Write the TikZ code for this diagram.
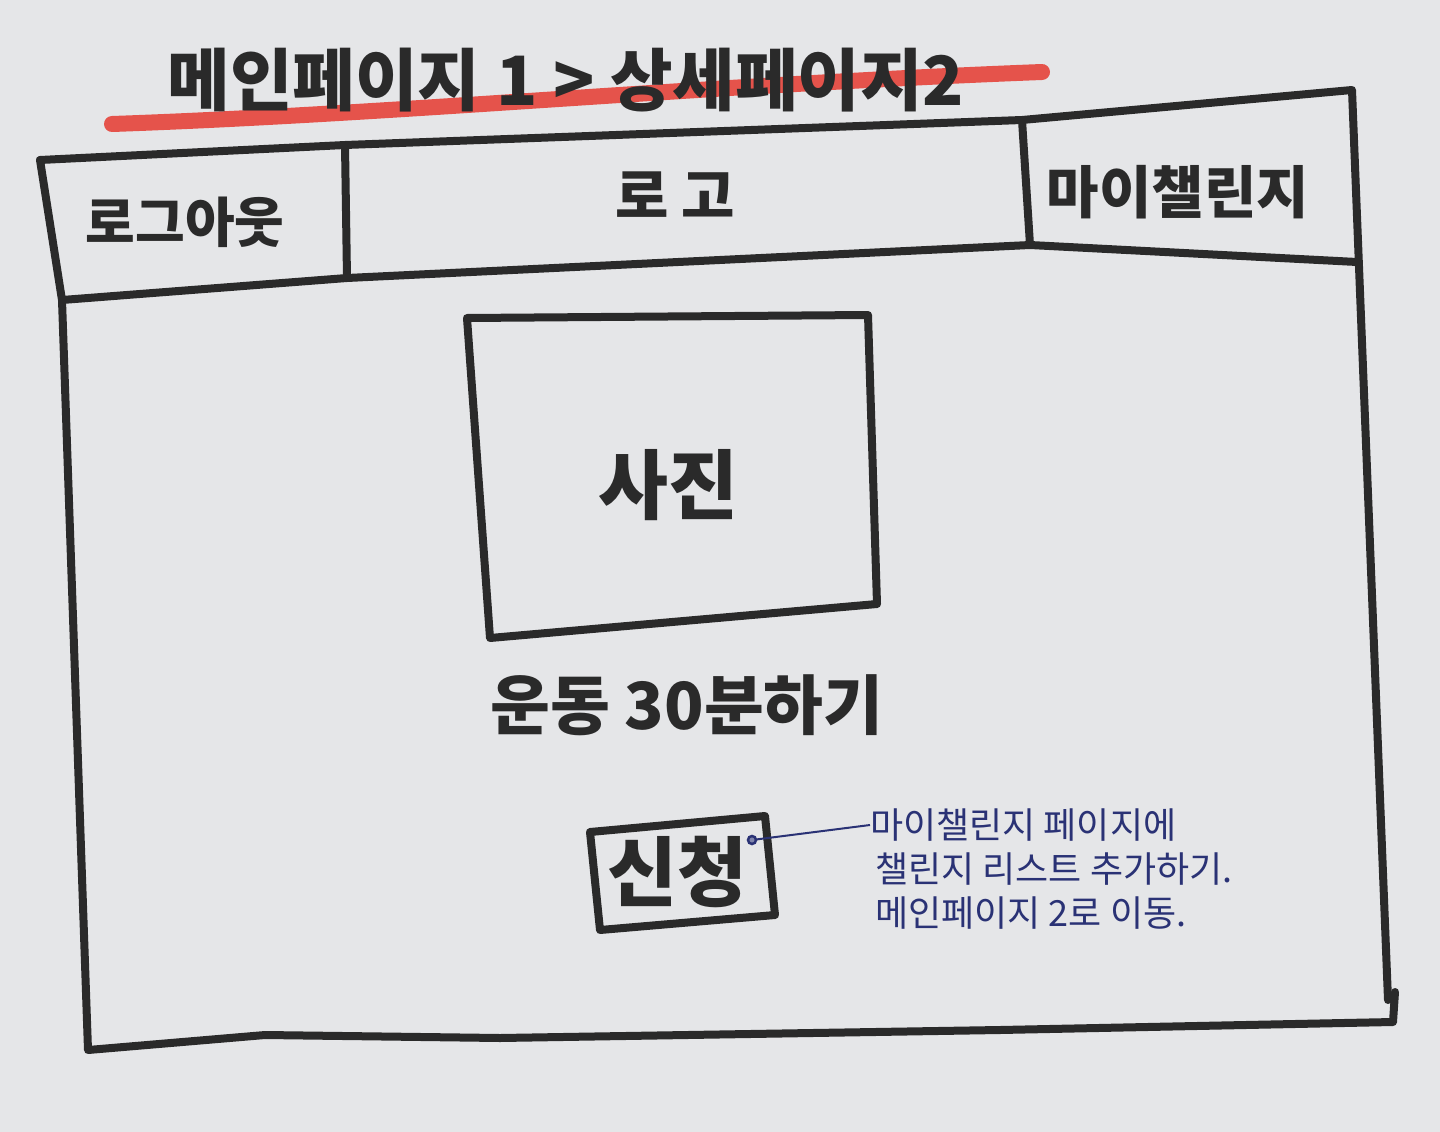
\documentclass[tikz,border=0pt]{standalone}
\usepackage{fontspec}
\newfontfamily\kr{Noto Sans CJK KR}
\definecolor{paper}{HTML}{E5E6E8}
\definecolor{inkc}{HTML}{2A2A2A}
\definecolor{pen}{HTML}{2A3275}
\definecolor{marker}{HTML}{E5534B}
\begin{document}
\begin{tikzpicture}[x=1pt,y=-1pt,
  ink/.style={draw=inkc, line width=8pt, line cap=round, line join=round},
  bigtxt/.style={text=inkc, inner sep=0pt, font=\kr\bfseries\fontsize{#1}{#1}\selectfont},
  notetxt/.style={text=pen, inner sep=0pt, anchor=west, font=\kr\fontsize{36}{36}\selectfont}]
\useasboundingbox (0,0) rectangle (1440,1132);
\fill[paper] (0,0) rectangle (1440,1132);
% title underline
\draw[marker, line width=16pt, line cap=round] (112,124) .. controls (400,114) and (700,85) .. (1042,72);
\node[bigtxt=68] (title) at (566,80) {메인페이지 1 > 상세페이지2};
% frame
\draw[ink] (40,160) -- (345,145) -- (1022,120) -- (1352,90) -- (1388,1000);
\draw[ink] (40,160) -- (62,300) -- (88,1050) -- (265,1035) -- (500,1038) -- (1000,1030) -- (1393,1022) -- (1395,992);
\draw[ink] (62,300) -- (347,278) -- (1030,245) -- (1357,262);
\draw[ink] (345,145) -- (347,278);
\draw[ink] (1022,120) -- (1030,245);
% header texts
\node[bigtxt=54] (logout) at (185,222) {로그아웃};
\node[bigtxt=58] (logo) at (675,195) {로 고};
\node[bigtxt=57] (mych) at (1178,192) {마이챌린지};
% photo
\draw[ink] (467,318) -- (868,315) -- (877,604) -- (490,638) -- cycle;
\node[bigtxt=76] (photo) at (668,485) {사진};
\node[bigtxt=65] (exercise) at (687,705) {운동 30분하기};
% button
\draw[ink] (590,832) -- (765,816) -- (775,915) -- (600,930) -- cycle;
\node[bigtxt=76] (apply) at (677,872) {신청};
% annotation
\coordinate (dot) at (752,840);
\node[notetxt] (note1) at (870,825) {마이챌린지 페이지에};
\node[notetxt] (note2) at (875,869) {챌린지 리스트 추가하기.};
\node[notetxt] (note3) at (875,913) {메인페이지 2로 이동.};
\draw[pen, line width=2pt] (dot) -- (note1.west);
\draw[pen, line width=2.5pt, fill=pen!60] (dot) circle (4pt);
\end{tikzpicture}
\end{document}
